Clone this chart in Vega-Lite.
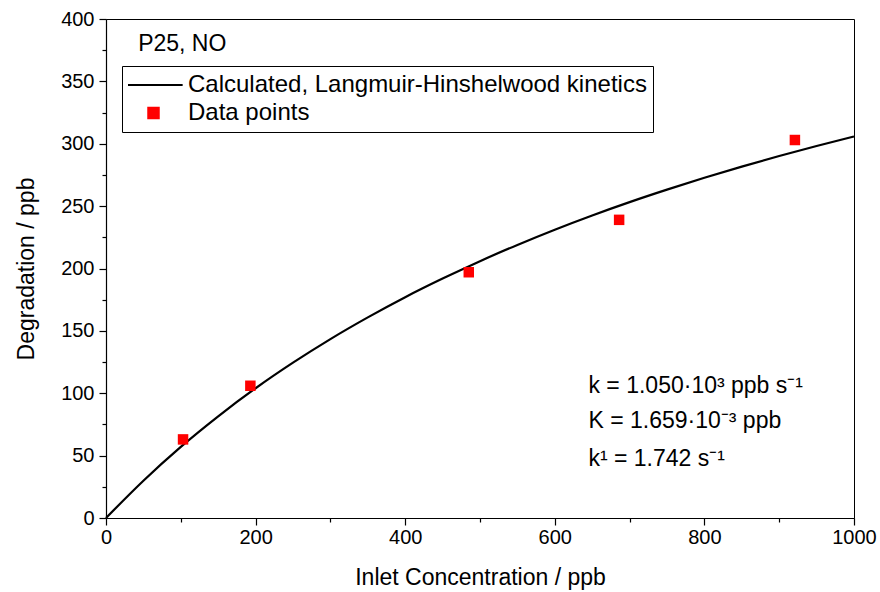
{
  "$schema": "https://vega.github.io/schema/vega-lite/v6.json",
  "width": 748,
  "height": 499,
  "autosize": "none",
  "padding": {"left": 106, "top": 19, "right": 26, "bottom": 74},
  "background": "white",
  "config": {
    "font": "Liberation Sans",
    "view": {"stroke": "black", "strokeWidth": 1},
    "axis": {
      "domainColor": "black", "domainWidth": 1.2, "tickColor": "black", "tickWidth": 1.2,
      "labelColor": "black", "titleColor": "black", "labelFont": "Liberation Sans",
      "titleFont": "Liberation Sans", "labelFontSize": 20, "titleFontSize": 23,
      "titleFontWeight": "normal", "grid": false
    }
  },
  "datasets": {
    "curve": [
      {"x": 0, "y": 0, "series": "Calculated, Langmuir-Hinshelwood kinetics"},
      {"x": 50, "y": 29.9, "series": "Calculated, Langmuir-Hinshelwood kinetics"},
      {"x": 100, "y": 57.0, "series": "Calculated, Langmuir-Hinshelwood kinetics"},
      {"x": 150, "y": 81.5, "series": "Calculated, Langmuir-Hinshelwood kinetics"},
      {"x": 200, "y": 104.0, "series": "Calculated, Langmuir-Hinshelwood kinetics"},
      {"x": 250, "y": 124.5, "series": "Calculated, Langmuir-Hinshelwood kinetics"},
      {"x": 300, "y": 143.4, "series": "Calculated, Langmuir-Hinshelwood kinetics"},
      {"x": 350, "y": 160.8, "series": "Calculated, Langmuir-Hinshelwood kinetics"},
      {"x": 400, "y": 177.0, "series": "Calculated, Langmuir-Hinshelwood kinetics"},
      {"x": 450, "y": 191.9, "series": "Calculated, Langmuir-Hinshelwood kinetics"},
      {"x": 500, "y": 205.9, "series": "Calculated, Langmuir-Hinshelwood kinetics"},
      {"x": 550, "y": 218.9, "series": "Calculated, Langmuir-Hinshelwood kinetics"},
      {"x": 600, "y": 231.1, "series": "Calculated, Langmuir-Hinshelwood kinetics"},
      {"x": 650, "y": 242.5, "series": "Calculated, Langmuir-Hinshelwood kinetics"},
      {"x": 700, "y": 253.2, "series": "Calculated, Langmuir-Hinshelwood kinetics"},
      {"x": 750, "y": 263.2, "series": "Calculated, Langmuir-Hinshelwood kinetics"},
      {"x": 800, "y": 272.7, "series": "Calculated, Langmuir-Hinshelwood kinetics"},
      {"x": 850, "y": 281.7, "series": "Calculated, Langmuir-Hinshelwood kinetics"},
      {"x": 900, "y": 290.2, "series": "Calculated, Langmuir-Hinshelwood kinetics"},
      {"x": 950, "y": 298.2, "series": "Calculated, Langmuir-Hinshelwood kinetics"},
      {"x": 1000, "y": 305.8, "series": "Calculated, Langmuir-Hinshelwood kinetics"}
    ],
    "points": [
      {"x": 103, "y": 63, "series": "Data points"},
      {"x": 193, "y": 106, "series": "Data points"},
      {"x": 485, "y": 197, "series": "Data points"},
      {"x": 686, "y": 239, "series": "Data points"},
      {"x": 921, "y": 303, "series": "Data points"}
    ],
    "notes": [
      {"x": 43, "y": 380, "label": "P25, NO"},
      {"x": 645, "y": 105.5, "label": "k = 1.050·10³ ppb s⁻¹"},
      {"x": 645, "y": 77.5, "label": "K = 1.659·10⁻³ ppb"},
      {"x": 645, "y": 47.5, "label": "k¹ = 1.742 s⁻¹"}
    ]
  },
  "encoding": {
    "x": {
      "field": "x", "type": "quantitative",
      "scale": {"domain": [0, 1000], "nice": false, "zero": false},
      "axis": {
        "title": "Inlet Concentration / ppb",
        "format": "d",
        "values": [0, 100, 200, 300, 400, 500, 600, 700, 800, 900, 1000],
        "labelExpr": "datum.value % 200 === 0 ? datum.label : ''",
        "tickSize": {"condition": {"test": "datum.value % 200 !== 0", "value": 4}, "value": 7},
        "labelPadding": 2, "titlePadding": 19, "labelFlush": false
      }
    },
    "y": {
      "field": "y", "type": "quantitative",
      "scale": {"domain": [0, 400], "nice": false, "zero": false},
      "axis": {
        "title": "Degradation / ppb",
        "format": "d",
        "values": [0, 25, 50, 75, 100, 125, 150, 175, 200, 225, 250, 275, 300, 325, 350, 375, 400],
        "labelExpr": "datum.value % 50 === 0 ? datum.label : ''",
        "tickSize": {"condition": {"test": "datum.value % 50 !== 0", "value": 4}, "value": 7},
        "labelPadding": 5, "titlePadding": 22, "labelFlush": false
      }
    }
  },
  "layer": [
    {
      "data": {"name": "curve"},
      "mark": {"type": "line", "strokeWidth": 2.2, "interpolate": "monotone"},
      "encoding": {
        "color": {
          "field": "series", "type": "nominal",
          "scale": {"domain": ["Calculated, Langmuir-Hinshelwood kinetics", "Data points"], "range": ["black", "red"]},
          "legend": {
            "title": null, "orient": "none", "legendX": 16, "legendY": 47,
            "strokeColor": "black", "fillColor": "white", "padding": 6,
            "labelFont": "Liberation Sans", "labelFontSize": 24, "labelColor": "black",
            "labelLimit": 0,
            "labelOffset": 4, "rowPadding": 2, "clipHeight": 26, "symbolSize": 3400,
            "symbolOffset": -5,
            "encode": {
              "symbols": {
                "update": {
                  "shape": {"signal": "datum.value === 'Data points' ? 'square' : 'stroke'"},
                  "size": {"signal": "datum.value === 'Data points' ? 110 : 3400"},
                  "fill": {"signal": "datum.value === 'Data points' ? 'red' : 'transparent'"},
                  "stroke": {"signal": "datum.value === 'Data points' ? 'transparent' : 'black'"},
                  "strokeWidth": {"value": 2},
                  "opacity": {"value": 1}
                }
              }
            }
          }
        }
      }
    },
    {
      "data": {"name": "points"},
      "mark": {"type": "point", "shape": "square", "filled": true, "size": 110, "opacity": 1},
      "encoding": {
        "color": {"field": "series", "type": "nominal"}
      }
    },
    {
      "data": {"name": "notes"},
      "mark": {"type": "text", "align": "left", "baseline": "middle", "fontSize": 23, "font": "Liberation Sans", "color": "black"},
      "encoding": {"text": {"field": "label"}}
    }
  ]
}
